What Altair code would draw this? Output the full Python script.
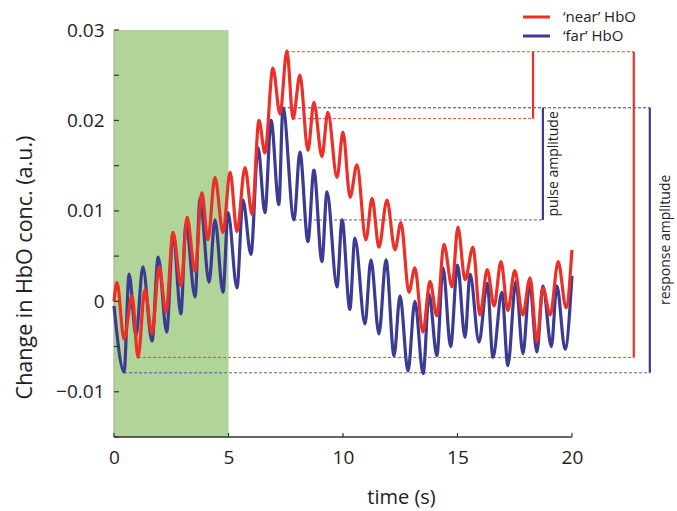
import altair as alt
import pandas as pd

# ---- data ----
near_t = [0.0, 0.13, 0.44, 0.79, 1.05, 1.35, 1.66, 1.97, 2.27, 2.58, 2.93, 3.19, 3.54, 3.84, 4.10,
          4.41, 4.76, 5.07, 5.37, 5.72, 6.03, 6.33, 6.59, 6.94, 7.25, 7.55, 7.82, 8.12, 8.47, 8.73,
          9.08, 9.34, 9.74, 10.0, 10.31, 10.61, 11.0, 11.27, 11.57, 11.92, 12.27, 12.53, 12.88,
          13.14, 13.49, 13.8, 14.1, 14.41, 14.76, 15.02, 15.33, 15.68, 15.98, 16.3, 16.6, 16.9,
          17.2, 17.5, 17.85, 18.17, 18.47, 18.73, 19.05, 19.4, 19.74, 20.0]
near_v = [0.0, 0.0021, -0.0042, 0.0006, -0.0062, 0.0013, -0.0036, 0.0038, -0.0012, 0.0076, 0.0017,
          0.0093, 0.0033, 0.0120, 0.0068, 0.0137, 0.0076, 0.0143, 0.0077, 0.0148, 0.0096, 0.0200,
          0.0164, 0.0258, 0.0207, 0.0277, 0.0202, 0.0250, 0.0167, 0.0220, 0.0160, 0.0209, 0.0137,
          0.0187, 0.0115, 0.0151, 0.0068, 0.0114, 0.0060, 0.0112, 0.0057, 0.0087, 0.0010, 0.0037,
          -0.0034, 0.0022, -0.0016, 0.0063, 0.0016, 0.0082, 0.0024, 0.0060, -0.0015, 0.0035,
          -0.0005, 0.0044, -0.0010, 0.0034, -0.0015, 0.0026, -0.0045, 0.0015, -0.0015, 0.0044,
          -0.0007, 0.0057]

far_t = [0.0, 0.44, 0.66, 0.96, 1.26, 1.66, 1.93, 2.30, 2.58, 2.92, 3.14, 3.54, 3.76, 4.15, 4.41,
         4.76, 4.98, 5.37, 5.63, 5.98, 6.29, 6.59, 6.86, 7.20, 7.38, 7.86, 8.12, 8.47, 8.73, 9.08,
         9.30, 9.74, 9.96, 10.30, 10.52, 10.96, 11.22, 11.57, 11.88, 12.23, 12.49, 12.84, 13.14,
         13.50, 13.76, 14.10, 14.37, 14.70, 15.00, 15.33, 15.55, 15.94, 16.30, 16.55, 16.94, 17.20,
         17.55, 17.86, 18.15, 18.47, 18.73, 19.10, 19.34, 19.70, 20.0]
far_v = [-0.0005, -0.0078, 0.0030, -0.0038, 0.0038, -0.0044, 0.0049, -0.0034, 0.0076, -0.0014,
         0.0085, 0.0005, 0.0114, 0.0021, 0.0090, 0.0010, 0.0098, 0.0015, 0.0112, 0.0052, 0.0170,
         0.0098, 0.0200, 0.0107, 0.0214, 0.0090, 0.0165, 0.0066, 0.0145, 0.0044, 0.0121, 0.0016,
         0.0090, -0.0009, 0.0070, -0.0025, 0.0046, -0.0036, 0.0046, -0.0060, 0.0006, -0.0077,
         0.0000, -0.0080, 0.0008, -0.0060, 0.0037, -0.0050, 0.0040, -0.0040, 0.0030, -0.0045,
         0.0020, -0.0062, 0.0010, -0.0071, 0.0022, -0.0058, 0.0020, -0.0056, 0.0017, -0.0050,
         0.0017, -0.0053, 0.0028]

series_names = ["\u2018near\u2019 HbO", "\u2018far\u2019 HbO"]

stim_start = [0]
stim_end = [5]

# dashed reference levels: start time, end time, level, colour
ref_x1 = [7.55, 7.82, 7.38, 7.86, 1.05, 0.44]
ref_x2 = [22.7, 18.3, 23.4, 18.73, 22.7, 23.4]
ref_y = [0.0276, 0.0202, 0.0214, 0.0090, -0.0062, -0.0079]
ref_c = ["#e8453c", "#e8453c", "#3c3c6e", "#5a5d9a", "#e8453c", "#5a5d9a"]

# amplitude bars: time, low, high
bar_x = [18.3, 18.73, 22.7, 23.4]
bar_lo = [0.0202, 0.0090, -0.0062, -0.0079]
bar_hi = [0.0276, 0.0214, 0.0276, 0.0214]

ann_text = ["pulse amplitude", "response amplitude"]
ann_x = [19.2, 24.1]
ann_y = [0.0152, 0.0068]

y_ticks = [-0.015, -0.01, -0.005, 0.0, 0.005, 0.01, 0.015, 0.02, 0.025, 0.03]
x_ticks = [0, 5, 10, 15, 20]

RED = "#ec3027"
BLUE = "#3b3b94"
GREEN = "#add293"
FONT = "Open Sans"
W, H = 561, 407

xs = alt.Scale(domain=[0, 24.5], nice=False, zero=False)
ys = alt.Scale(domain=[-0.015, 0.03], nice=False, zero=False)
cs = alt.Scale(domain=series_names, range=[RED, BLUE])

XAXIS = alt.Axis(
    values=x_ticks, domain=False, ticks=False, grid=False, labelFlush=False,
    labelFont=FONT, labelFontSize=19, labelColor="#222", labelPadding=11,
    title="time (s)", titleFont=FONT, titleFontSize=20, titleFontWeight="normal",
    titleColor="#222", titleX=287, titleY=60, titleAlign="center", titleBaseline="middle")
YAXIS = alt.Axis(
    values=y_ticks, domain=True, domainColor="#333", domainWidth=1.5, ticks=False, grid=False,
    labelFlush=False,
    labelFont=FONT, labelFontSize=19, labelColor="#222", labelPadding=10,
    labelExpr="abs(datum.value) < 1e-9 ? '0' : (abs(round(datum.value*100) - datum.value*100) < 1e-6 ? format(datum.value, '.2f') : '')",
    title="Change in HbO conc. (a.u.)", titleFont=FONT, titleFontSize=21.5,
    titleFontWeight="normal", titleColor="#222", titleX=-89, titleY=237,
    titleAlign="center", titleBaseline="middle")


def X(f):
    return alt.X(f, scale=xs, axis=XAXIS, title="time (s)")


def Y(f):
    return alt.Y(f, scale=ys, axis=YAXIS, title="Change in HbO conc. (a.u.)")


near = pd.DataFrame({"t": near_t, "v": near_v, "s": series_names[0]})
far = pd.DataFrame({"t": far_t, "v": far_v, "s": series_names[1]})

stim = alt.Chart(pd.DataFrame({"a": stim_start, "b": stim_end})).mark_rect(
    color=GREEN, opacity=0.95
).encode(x=X("a:Q"), x2="b:Q", y=alt.value(0), y2=alt.value(H))

refs = alt.Chart(pd.DataFrame({"x1": ref_x1, "x2": ref_x2, "y": ref_y, "c": ref_c})).mark_rule(
    strokeDash=[3, 2], strokeWidth=1
).encode(x=X("x1:Q"), x2="x2:Q", y=Y("y:Q"), color=alt.Color("c:N", scale=None))

bars = alt.Chart(pd.DataFrame({"x": bar_x, "lo": bar_lo, "hi": bar_hi,
                               "c": [RED, BLUE, RED, BLUE]})).mark_rule(strokeWidth=2.2).encode(
    x=X("x:Q"), y=Y("lo:Q"), y2="hi:Q", color=alt.Color("c:N", scale=None)
)

far_line = alt.Chart(far).mark_line(strokeWidth=3.2, interpolate="monotone").encode(
    x=X("t:Q"), y=Y("v:Q"), color=alt.Color("s:N", scale=cs, legend=None)
)
near_line = alt.Chart(near).mark_line(strokeWidth=3.2, interpolate="monotone").encode(
    x=X("t:Q"), y=Y("v:Q"), color=alt.Color("s:N", scale=cs, legend=None)
)

xaxis_line = alt.Chart(pd.DataFrame({"a": [x_ticks[0]], "b": [x_ticks[-1]]})).mark_rule(
    color="#333", strokeWidth=1.5
).encode(x=X("a:Q"), x2="b:Q", y=alt.value(H))

yt = alt.Chart(pd.DataFrame({"v": y_ticks})).mark_rule(color="#333", strokeWidth=1.2).encode(
    y=Y("v:Q"), x=alt.value(0), x2=alt.value(5)
)
xt = alt.Chart(pd.DataFrame({"t": x_ticks})).mark_rule(color="#333", strokeWidth=1.2).encode(
    x=X("t:Q"), y=alt.value(H), y2=alt.value(H - 4)
)

ann = alt.Chart(pd.DataFrame({"t": ann_text, "x": ann_x, "y": ann_y})).mark_text(
    angle=270, font=FONT, fontSize=14, color="#222", align="center", baseline="middle"
).encode(x=X("x:Q"), y=Y("y:Q"), text="t:N")

leg_layers = []
for i, (name, ypx) in enumerate(zip(series_names, [-13, 6])):
    d = pd.DataFrame({"s": [name]})
    leg_layers.append(alt.Chart(d).mark_rule(strokeWidth=3).encode(
        x=alt.value(409), x2=alt.value(436), y=alt.value(ypx),
        color=alt.Color("s:N", scale=cs, legend=None)))
    leg_layers.append(alt.Chart(d).mark_text(
        align="left", baseline="middle", font=FONT, fontSize=15, color="#222"
    ).encode(x=alt.value(449), y=alt.value(ypx), text="s:N"))

chart = alt.layer(
    stim, refs, bars, far_line, near_line, xaxis_line, yt, xt, ann, *leg_layers
).resolve_scale(color="independent").properties(
    width=W, height=H,
    padding={"left": 114, "top": 30, "right": 0, "bottom": 74},
    autosize=alt.AutoSizeParams(type="none"),
    background="white"
).configure_view(stroke=None)

chart.save("out.html", embed_options={"renderer": "svg", "actions": False})
